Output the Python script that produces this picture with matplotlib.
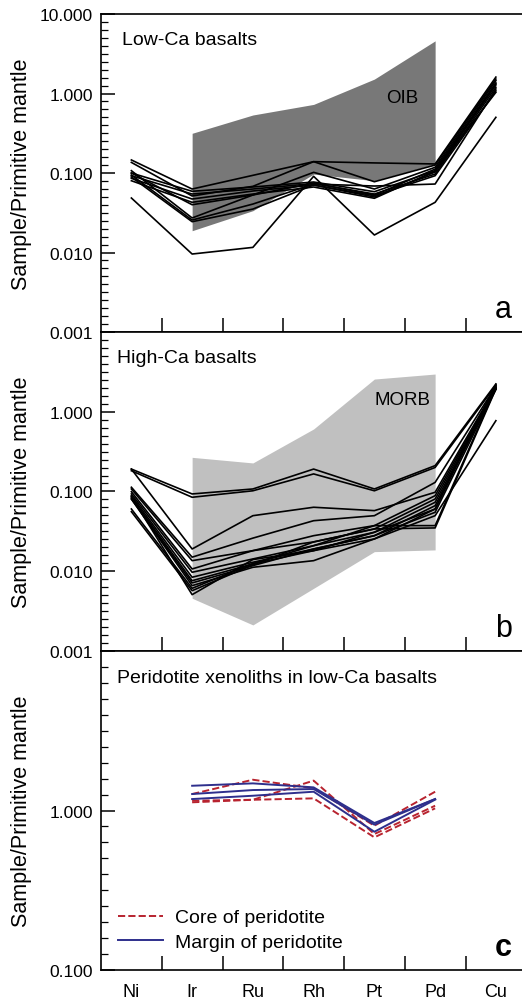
import matplotlib.pyplot as plt
from matplotlib.ticker import NullFormatter
from matplotlib.transforms import ScaledTranslation

plt.rcParams["font.family"] = ["Liberation Sans", "DejaVu Sans"]

elements = ["Ni", "Ir", "Ru", "Rh", "Pt", "Pd", "Cu"]
field_elements = ["Ir", "Ru", "Rh", "Pt", "Pd"]
peridotite_elements = ["Ir", "Ru", "Rh", "Pt", "Pd"]

# OIB / MORB fields (Ir..Pd)
oib_upper = [0.316, 0.537, 0.73, 1.52, 4.6]
oib_lower = [0.0188, 0.0336, 0.097, 0.080, 0.130]
morb_upper = [0.268, 0.228, 0.608, 2.57, 2.97]
morb_lower = [0.00458, 0.00212, 0.0061, 0.0176, 0.0185]

# low-Ca basalts, Ni..Cu
low_ca = [
    [0.0485, 0.00957, 0.0116, 0.0909, 0.0166, 0.0428, 0.502],
    [0.146, 0.0629, 0.0935, 0.139, 0.134, 0.130, 1.61],
    [0.136, 0.0514, 0.068, 0.139, 0.0777, 0.126, 1.52],
    [0.107, 0.0272, 0.0529, 0.102, 0.0629, 0.118, 1.45],
    [0.100, 0.0589, 0.0667, 0.0771, 0.0582, 0.107, 1.32],
    [0.0925, 0.0544, 0.0629, 0.0738, 0.0544, 0.0971, 1.20],
    [0.0858, 0.0471, 0.0594, 0.0706, 0.0518, 0.0925, 1.08],
    [0.080, 0.0428, 0.0544, 0.0667, 0.0481, 0.106, 1.035],
    [0.0944, 0.0256, 0.0407, 0.0727, 0.0686, 0.0727, 1.14],
    [0.0891, 0.0244, 0.0352, 0.0706, 0.0499, 0.103, 1.28],
    [0.100, 0.0399, 0.0529, 0.0748, 0.0529, 0.112, 1.36],
]

# high-Ca basalts, Ni..Cu
high_ca = [
    [0.191, 0.0931, 0.1075, 0.191, 0.1075, 0.211, 2.23],
    [0.182, 0.0846, 0.102, 0.166, 0.102, 0.200, 2.15],
    [0.191, 0.0190, 0.0497, 0.0634, 0.0575, 0.0977, 2.05],
    [0.113, 0.0150, 0.026, 0.0430, 0.0497, 0.130, 2.10],
    [0.1075, 0.01356, 0.0181, 0.0279, 0.0373, 0.0886, 2.0],
    [0.0994, 0.01067, 0.0181, 0.0233, 0.0339, 0.0805, 1.95],
    [0.0931, 0.0097, 0.01425, 0.0209, 0.0308, 0.0732, 1.9],
    [0.0886, 0.0084, 0.01295, 0.0190, 0.0279, 0.0664, 2.0],
    [0.0846, 0.0076, 0.01233, 0.0181, 0.0254, 0.0603, 2.2],
    [0.0805, 0.00713, 0.01175, 0.0190, 0.0279, 0.0548, 1.93],
    [0.0805, 0.00659, 0.0112, 0.01356, 0.0254, 0.0497, 0.772],
    [0.0603, 0.0061, 0.0125, 0.0209, 0.0373, 0.0373, 2.0],
    [0.0558, 0.0057, 0.0120, 0.0233, 0.0339, 0.0349, 1.93],
    [0.0860, 0.00508, 0.0140, 0.0181, 0.0308, 0.0603, 2.1],
]

# peridotite xenoliths, Ir..Pd
core = [
    [1.269, 1.56, 1.38, 0.803, 1.312],
    [1.152, 1.168, 1.54, 0.712, 1.072],
    [1.126, 1.168, 1.192, 0.679, 1.032],
]
margin = [
    [1.43, 1.48, 1.397, 0.835, 1.18],
    [1.269, 1.344, 1.364, 0.815, 1.18],
    [1.18, 1.238, 1.312, 0.736, 1.17],
]

RED = "#b8232f"
NAVY = "#2e2f8c"


def __pos(names):
    return [elements.index(n) for n in names]


def __setup_axes(ax, lo, hi, show_top, letter, bold=False):
    ax.set_yscale("log")
    ax.set_ylim(10.0**lo, 10.0**hi)
    ax.set_xlim(-0.5, 6.43)

    # ten evenly spaced ticks per decade, as in the original
    major = [10.0**k for k in range(lo, hi + 1)]
    minor = [10.0 ** (k + j / 10) for k in range(lo, hi) for j in range(1, 10)]
    labels = [f"{m:.3f}" for m in major]
    if not show_top:
        labels[-1] = ""
    ax.set_yticks(major)
    ax.set_yticklabels(labels)
    ax.set_yticks(minor, minor=True)
    ax.yaxis.set_minor_formatter(NullFormatter())

    # ticks between elements, labels on elements
    ax.set_xticks([i + 0.5 for i in range(6)])
    ax.set_xticklabels([])
    ax.set_xticks(range(len(elements)), minor=True)
    ax.set_xticklabels(elements, minor=True)
    shift = ScaledTranslation(0.04, 0, ax.figure.dpi_scale_trans)
    for lbl in ax.get_xticklabels(minor=True):
        lbl.set_transform(lbl.get_transform() + shift)

    ax.tick_params(axis="y", which="major", direction="in", length=10, width=1.1,
                   labelsize=12.5, pad=6)
    ax.tick_params(axis="y", which="minor", direction="in", length=5, width=0.9)
    ax.tick_params(axis="x", which="major", direction="in", length=10, width=1.1)
    ax.tick_params(axis="x", which="minor", length=0, labelsize=13, pad=9)

    ax.spines["right"].set_visible(False)
    for s in ["left", "top", "bottom"]:
        ax.spines[s].set_linewidth(1.2)

    ax.set_ylabel("Sample/Primitive mantle", fontsize=15.5)
    ax.yaxis.set_label_coords(-0.163, 0.5)

    ax.text(0.976, 0.047, letter, transform=ax.transAxes, ha="right", va="baseline",
            fontsize=22, fontweight="bold" if bold else "normal")


fig = plt.figure(figsize=(5.22, 10.03), dpi=100)
ax_a = fig.add_axes([0.1935, 0.668, 0.8065, 0.317])
ax_b = fig.add_axes([0.1935, 0.350, 0.8065, 0.318])
ax_c = fig.add_axes([0.1935, 0.0319, 0.8065, 0.318])

x_all = range(len(elements))

# (a) low-Ca basalts
ax_a.fill_between(__pos(field_elements), oib_lower, oib_upper, color="#787878", lw=0)
for row in low_ca:
    ax_a.plot(x_all, row, color="black", lw=1.2)
ax_a.text(4.2, 0.78, "OIB", fontsize=13.5)
ax_a.text(0.05, 0.906, "Low-Ca basalts", transform=ax_a.transAxes, fontsize=14, va="baseline")
__setup_axes(ax_a, -3, 1, True, "a")
ax_a.tick_params(axis="x", which="minor", labelbottom=False)

# (b) high-Ca basalts
ax_b.fill_between(__pos(field_elements), morb_lower, morb_upper, color="#c0c0c0", lw=0)
for row in high_ca:
    ax_b.plot(x_all, row, color="black", lw=1.2)
ax_b.text(4.0, 1.25, "MORB", fontsize=13.5)
ax_b.text(0.038, 0.906, "High-Ca basalts", transform=ax_b.transAxes, fontsize=14, va="baseline")
__setup_axes(ax_b, -3, 1, False, "b")
ax_b.tick_params(axis="x", which="minor", labelbottom=False)

# (c) peridotite xenoliths
xp = __pos(peridotite_elements)
for i, row in enumerate(core):
    ax_c.plot(xp, row, color=RED, lw=1.4, ls="--", label="Core of peridotite" if i == 0 else None)
for i, row in enumerate(margin):
    ax_c.plot(xp, row, color=NAVY, lw=1.4, label="Margin of peridotite" if i == 0 else None)
ax_c.text(0.038, 0.903, "Peridotite xenoliths in low-Ca basalts", transform=ax_c.transAxes,
          fontsize=14, va="baseline")
__setup_axes(ax_c, -1, 1, False, "c", bold=True)
ax_c.legend(loc="lower left", bbox_to_anchor=(0.04, 0.06), frameon=False, fontsize=14,
            borderaxespad=0, borderpad=0, handlelength=2.3, handletextpad=0.65,
            labelspacing=0.35)

fig.savefig("out.png", dpi=100)
